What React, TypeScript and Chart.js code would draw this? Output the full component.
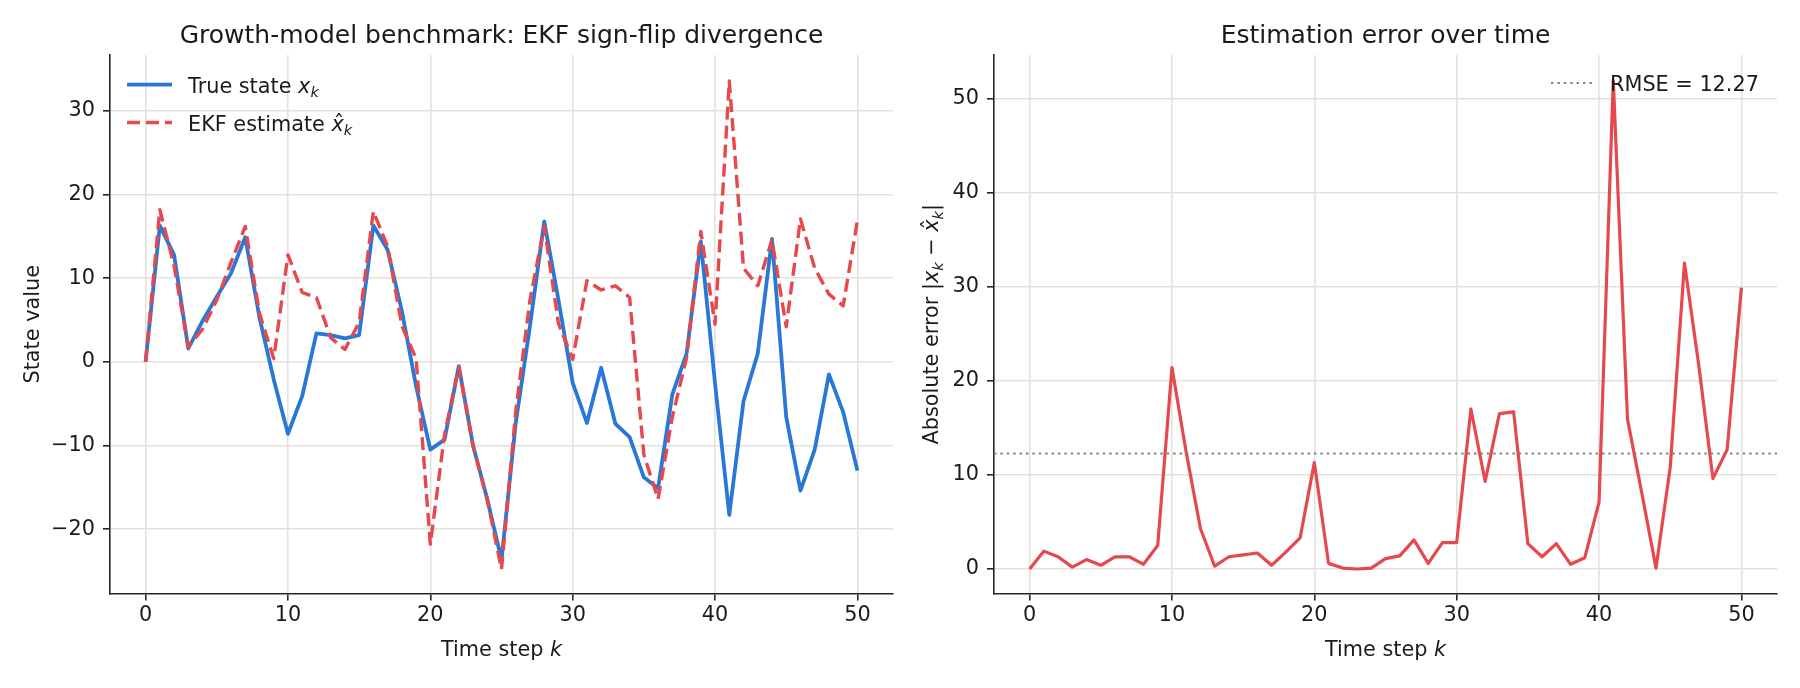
import { useEffect, useRef } from "react";
import { Chart, registerables } from "chart.js";

Chart.register(...registerables);

// ---- data -----------------------------------------------------------------
const trueState = [
  0, 16.3, 12.8, 1.6, 4.9, 7.8, 10.6, 14.9, 5.3, -2.1,
  -8.6, -4.1, 3.4, 3.2, 2.8, 3.2, 16.3, 13.4, 6.1, -2.9,
  -10.5, -9.3, -0.5, -10.0, -16.4, -23.7, -7.3, 4.3, 16.8, 7.4,
  -2.5, -7.3, -0.7, -7.4, -9.0, -13.8, -15.1, -3.9, 1.0, 14.4,
  -2.6, -18.3, -4.7, 1.0, 14.7, -6.6, -15.4, -10.5, -1.5, -6.0,
  -13.0,
];

const ekfEstimate = [
  0, 18.2, 11.5, 1.8, 3.9, 7.4, 11.9, 16.2, 5.8, 0.4,
  12.8, 8.3, 7.7, 2.9, 1.5, 4.7, 18.0, 13.8, 4.3, 0.4,
  -21.8, -8.7, -0.6, -10.0, -16.5, -24.8, -5.9, 7.4, 16.2, 4.6,
  0.3, 9.7, 8.6, 9.1, 7.7, -11.1, -16.4, -6.6, 0.5, 15.6,
  4.5, 33.6, 11.2, 9.1, 14.6, 4.2, 17.1, 11.2, 8.1, 6.7,
  16.9,
];

const absError = [
  0, 1.9, 1.3, 0.2, 1.0, 0.4, 1.3, 1.3, 0.5, 2.5,
  21.4, 12.4, 4.3, 0.3, 1.3, 1.5, 1.7, 0.4, 1.8, 3.3,
  11.3, 0.6, 0.1, 0.0, 0.1, 1.1, 1.4, 3.1, 0.6, 2.8,
  2.8, 17.0, 9.3, 16.5, 16.7, 2.7, 1.3, 2.7, 0.5, 1.2,
  7.1, 51.9, 15.9, 8.1, 0.1, 10.8, 32.5, 21.7, 9.6, 12.7,
  29.9,
];

const rmse = 12.27;

const stepTicks = [0, 10, 20, 30, 40, 50];
const stateTicks = [-20, -10, 0, 10, 20, 30];
const errorTicks = [0, 10, 20, 30, 40, 50];

// ---- styling --------------------------------------------------------------
const FONT = '"DejaVu Sans", "Liberation Sans", sans-serif';
const INK = "#1a1a1a";
const SPINE = "#262626";
const GRID = "#e4e2dc";
const BLUE = "#2a78d6";
const RED = "#e5484d";
const BASE = 20.8;

type Seg = { t: string; it?: boolean; sub?: boolean; hat?: boolean };

function segFont(s: Seg, size: number) {
  const sz = s.sub ? size * 0.7 : size;
  return `${s.it ? "italic " : ""}${sz}px ${FONT}`;
}

function richWidth(ctx: CanvasRenderingContext2D, segs: Seg[], size: number) {
  let w = 0;
  for (const s of segs) {
    ctx.font = segFont(s, size);
    w += ctx.measureText(s.t).width;
  }
  return w;
}

function drawRich(
  ctx: CanvasRenderingContext2D,
  segs: Seg[],
  x: number,
  y: number,
  size: number,
  align: "left" | "center"
) {
  const w = richWidth(ctx, segs, size);
  let cx = align === "center" ? x - w / 2 : x;
  ctx.textAlign = "left";
  ctx.textBaseline = "alphabetic";
  for (const s of segs) {
    ctx.font = segFont(s, size);
    const sw = ctx.measureText(s.t).width;
    const dy = s.sub ? size * 0.22 : 0;
    ctx.fillText(s.t, cx, y + dy);
    if (s.hat) {
      ctx.font = `${size}px ${FONT}`;
      const hw = ctx.measureText("\u02C6").width;
      ctx.fillText("\u02C6", cx + sw / 2 - hw / 2 + size * 0.06, y - size * 0.04);
    }
    cx += sw;
  }
}

type LegendItem = {
  segs: Seg[];
  color: string;
  width: number;
  dash: number[];
  y: number;
};

type PanelText = {
  title: string;
  titleY: number;
  xLabel: Seg[];
  xLabelY: number;
  yLabel: Seg[];
  yLabelX: number;
  legend: LegendItem[];
  legendX0: number;
  legendX1: number;
  legendTextX: number;
};

function textPlugin(cfg: PanelText) {
  return {
    id: "panelText",
    afterDraw(chart: Chart) {
      const ctx = chart.ctx;
      const a = chart.chartArea;
      const midX = (a.left + a.right) / 2;
      const midY = (a.top + a.bottom) / 2;
      ctx.save();
      ctx.fillStyle = INK;
      drawRich(ctx, [{ t: cfg.title }], midX, cfg.titleY, 25, "center");
      drawRich(ctx, cfg.xLabel, midX, cfg.xLabelY, BASE, "center");

      ctx.save();
      ctx.translate(cfg.yLabelX, midY);
      ctx.rotate(-Math.PI / 2);
      drawRich(ctx, cfg.yLabel, 0, 0, BASE, "center");
      ctx.restore();

      for (const item of cfg.legend) {
        ctx.save();
        ctx.strokeStyle = item.color;
        ctx.lineWidth = item.width;
        ctx.setLineDash(item.dash);
        ctx.lineCap = "butt";
        ctx.beginPath();
        ctx.moveTo(cfg.legendX0, item.y);
        ctx.lineTo(cfg.legendX1, item.y);
        ctx.stroke();
        ctx.restore();
        ctx.fillStyle = INK;
        drawRich(ctx, item.segs, cfg.legendTextX, item.y + 8, BASE, "left");
      }
      ctx.restore();
    },
  };
}

const fmt = (v: number) => (v < 0 ? "\u2212" + Math.abs(v) : String(v));

function axisX(ticks: number[]) {
  return {
    type: "linear" as const,
    min: -2.5,
    max: 52.5,
    afterBuildTicks: (s: any) => {
      s.ticks = ticks.map((v) => ({ value: v }));
    },
    afterFit: (s: any) => {
      s.height = 40;
    },
    ticks: {
      font: { family: FONT, size: BASE },
      color: INK,
      padding: 3,
      maxRotation: 0,
      autoSkip: false,
      callback: (v: any) => fmt(Number(v)),
    },
    grid: {
      color: GRID,
      lineWidth: 1.6,
      tickColor: SPINE,
      tickWidth: 1.6,
      tickLength: 7,
      drawTicks: true,
    },
    border: { color: SPINE, width: 1.6 },
  };
}

function axisY(ticks: number[], min: number, max: number, width: number) {
  return {
    type: "linear" as const,
    min,
    max,
    afterBuildTicks: (s: any) => {
      s.ticks = ticks.map((v) => ({ value: v }));
    },
    afterFit: (s: any) => {
      s.width = width;
    },
    ticks: {
      font: { family: FONT, size: BASE },
      color: INK,
      padding: 8,
      autoSkip: false,
      callback: (v: any) => fmt(Number(v)),
    },
    grid: {
      color: GRID,
      lineWidth: 1.6,
      tickColor: SPINE,
      tickWidth: 1.6,
      tickLength: 7,
      drawTicks: true,
    },
    border: { color: SPINE, width: 1.6 },
  };
}

export default function App() {
  const leftRef = useRef<HTMLCanvasElement | null>(null);
  const rightRef = useRef<HTMLCanvasElement | null>(null);

  useEffect(() => {
    if (!leftRef.current || !rightRef.current) return;

    const left = new Chart(leftRef.current, {
      type: "line",
      data: {
        datasets: [
          {
            label: "True state",
            data: trueState.map((y, k) => ({ x: k, y })),
            borderColor: BLUE,
            borderWidth: 3.8,
            pointRadius: 0,
            borderJoinStyle: "round",
            tension: 0,
            order: 1,
          },
          {
            label: "EKF estimate",
            data: ekfEstimate.map((y, k) => ({ x: k, y })),
            borderColor: RED,
            borderWidth: 3.4,
            borderDash: [13, 6],
            pointRadius: 0,
            borderJoinStyle: "round",
            tension: 0,
            order: 0,
          },
        ],
      },
      options: {
        responsive: false,
        animation: false,
        devicePixelRatio: 1,
        layout: { padding: { top: 55, left: 0, right: 7, bottom: 54.5 } },
        plugins: { legend: { display: false }, tooltip: { enabled: false } },
        scales: {
          x: axisX(stepTicks),
          y: axisY(stateTicks, -27.7, 36.7, 110),
        },
      },
      plugins: [
        textPlugin({
          title: "Growth-model benchmark: EKF sign-flip divergence",
          titleY: 43,
          xLabel: [{ t: "Time step " }, { t: "k", it: true }],
          xLabelY: 656,
          yLabel: [{ t: "State value" }],
          yLabelX: 39,
          legendX0: 127,
          legendX1: 172,
          legendTextX: 188,
          legend: [
            {
              segs: [{ t: "True state " }, { t: "x", it: true }, { t: "k", it: true, sub: true }],
              color: BLUE,
              width: 3.8,
              dash: [],
              y: 84.6,
            },
            {
              segs: [
                { t: "EKF estimate " },
                { t: "x", it: true, hat: true },
                { t: "k", it: true, sub: true },
              ],
              color: RED,
              width: 3.4,
              dash: [13, 6],
              y: 122.5,
            },
          ],
        }),
      ],
    } as any);

    const right = new Chart(rightRef.current, {
      type: "line",
      data: {
        datasets: [
          {
            label: "Absolute error",
            data: absError.map((y, k) => ({ x: k, y })),
            borderColor: RED,
            borderWidth: 3.2,
            pointRadius: 0,
            borderJoinStyle: "round",
            tension: 0,
            order: 1,
          },
          {
            label: "RMSE",
            data: [
              { x: -2.5, y: rmse },
              { x: 52.5, y: rmse },
            ],
            borderColor: "#808080",
            borderWidth: 1.8,
            borderDash: [2.4, 4],
            pointRadius: 0,
            tension: 0,
            order: 0,
          },
        ],
      },
      options: {
        responsive: false,
        animation: false,
        devicePixelRatio: 1,
        layout: { padding: { top: 55, left: 0, right: 23, bottom: 54.5 } },
        plugins: { legend: { display: false }, tooltip: { enabled: false } },
        scales: {
          x: axisX(stepTicks),
          y: axisY(errorTicks, -2.6, 54.6, 94),
        },
      },
      plugins: [
        textPlugin({
          title: "Estimation error over time",
          titleY: 43,
          xLabel: [{ t: "Time step " }, { t: "k", it: true }],
          xLabelY: 656,
          yLabel: [
            { t: "Absolute error |" },
            { t: "x", it: true },
            { t: "k", it: true, sub: true },
            { t: " \u2212 " },
            { t: "x", it: true, hat: true },
            { t: "k", it: true, sub: true },
            { t: "|" },
          ],
          yLabelX: 38,
          legendX0: 651,
          legendX1: 693,
          legendTextX: 710,
          legend: [
            {
              segs: [{ t: "RMSE = " + rmse.toFixed(2) }],
              color: "#808080",
              width: 1.8,
              dash: [2.4, 4],
              y: 83,
            },
          ],
        }),
      ],
    } as any);

    return () => {
      left.destroy();
      right.destroy();
    };
  }, []);

  return (
    <div
      style={{
        position: "fixed",
        left: 0,
        top: 0,
        width: 1800,
        height: 688,
        background: "#ffffff",
      }}
    >
      <canvas
        ref={leftRef}
        width={900}
        height={688}
        style={{ position: "absolute", left: 0, top: 0, width: 900, height: 688 }}
      />
      <canvas
        ref={rightRef}
        width={900}
        height={688}
        style={{ position: "absolute", left: 900, top: 0, width: 900, height: 688 }}
      />
    </div>
  );
}
